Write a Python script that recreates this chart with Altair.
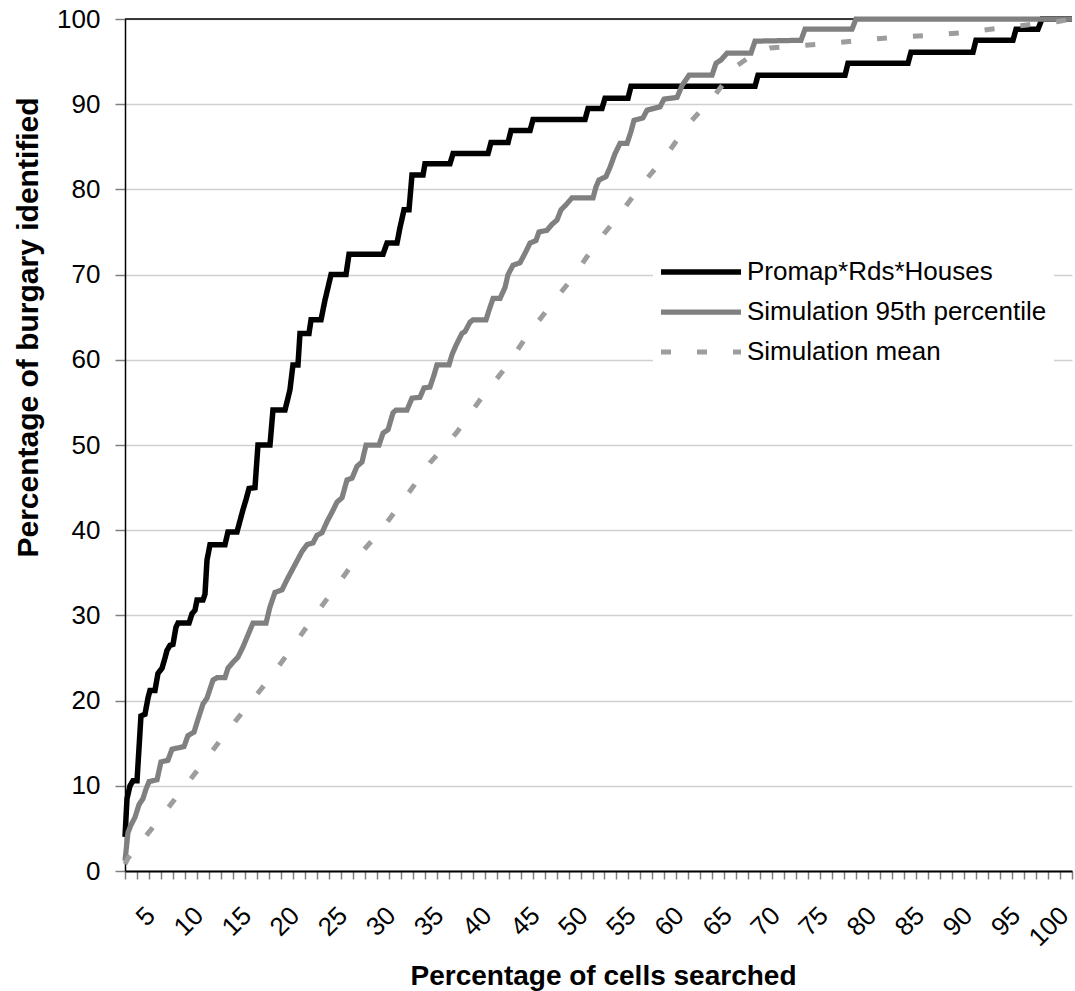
import altair as alt
import pandas as pd

FONT = "Liberation Sans"

SERIES = ["Promap*Rds*Houses", "Simulation 95th percentile", "Simulation mean"]
COLORS = ["#000000", "#808080", "#9d9d9d"]
DASHES = [[1, 0], [1, 0], [10, 26]]
WIDTHS = [5.5, 5, 5]

X_MIN = 1.5
X_MAX = 100
X_LABELS = list(range(5, 101, 5))
MINOR_TICKS = [X_MIN + k * (X_MAX - X_MIN) / 79 for k in range(80)]
Y_TICKS = list(range(0, 101, 10))

# Promap*Rds*Houses
promap_x = [1.50, 1.71, 2.02, 2.33, 2.75, 2.96, 3.16, 3.58, 3.89, 4.10, 4.62, 4.93,
            5.35, 5.66, 5.87, 6.18, 6.49, 6.80, 7.01, 8.16, 8.47, 8.78, 8.99, 9.61,
            9.82, 10.03, 10.34, 11.90, 12.21, 13.15, 13.77, 14.09, 14.40, 15.02, 15.33,
            16.58, 16.89, 18.14, 18.45, 18.66, 18.97, 19.49, 19.70, 20.64, 20.85, 21.89,
            22.30, 22.93, 24.49, 24.80, 28.34, 28.75, 29.79, 30.10, 30.52, 31.04, 31.35,
            32.50, 32.70, 35.30, 35.62, 39.26, 39.57, 41.34, 41.65, 43.63, 43.94, 49.35,
            49.66, 51.11, 51.43, 53.82, 54.13, 67.03, 67.34, 76.39, 76.70, 82.94, 83.25,
            89.70, 90.01, 93.86, 94.18, 96.46, 96.88, 100.0]
promap_y = [4.0, 8.5, 10.0, 10.6, 10.6, 14.5, 18.2, 18.4, 20.3, 21.2, 21.2, 23.2,
            23.8, 25.0, 25.9, 26.5, 26.6, 28.6, 29.1, 29.1, 30.2, 30.6, 31.8, 31.8,
            32.5, 36.5, 38.3, 38.3, 39.8, 39.8, 42.4, 43.6, 44.9, 45.0, 50.0,
            50.0, 54.1, 54.1, 55.5, 56.5, 59.4, 59.4, 63.1, 63.1, 64.7, 64.7,
            67.0, 70.0, 70.0, 72.4, 72.4, 73.7, 73.7, 75.5, 77.6, 77.6, 81.7,
            81.7, 83.0, 83.0, 84.2, 84.2, 85.5, 85.5, 86.9, 86.9, 88.2, 88.2,
            89.5, 89.5, 90.7, 90.7, 92.1, 92.1, 93.4, 93.4, 94.8, 94.8, 96.1,
            96.1, 97.5, 97.5, 98.8, 98.8, 100.0, 100.0]

# Simulation 95th percentile
p95_x = [1.50, 1.81, 2.12, 2.54, 2.96, 3.37, 3.68, 4.00, 4.83, 5.24, 5.97, 6.39,
         7.64, 8.05, 8.68, 9.09, 9.61, 10.03, 10.65, 11.07, 11.90, 12.21, 12.73, 13.25,
         13.77, 14.29, 14.81, 16.17, 16.58, 17.10, 17.83, 18.35, 18.87, 19.39, 19.91,
         20.43, 21.05, 21.47, 21.99, 22.51, 23.03, 23.55, 24.07, 24.59, 25.11, 25.63,
         26.15, 26.57, 27.92, 28.34, 28.86, 29.38, 29.69, 30.83, 31.35, 32.18, 32.60,
         33.22, 33.64, 33.95, 35.20, 35.51, 35.93, 36.55, 36.86, 37.38, 37.70, 39.05,
         39.36, 39.78, 40.51, 41.03, 41.34, 41.86, 42.59, 43.11, 43.63, 44.25, 44.56,
         45.39, 45.91, 46.43, 46.85, 47.37, 47.99, 50.18, 50.49, 50.80, 51.53, 51.95,
         52.47, 52.99, 53.72, 54.13, 54.44, 55.38, 55.80, 57.15, 57.57, 58.92, 59.44,
         60.17, 62.56, 62.97, 63.49, 64.12, 66.61, 67.03, 71.81, 72.23, 77.12, 77.53,
         100.0]
p95_y = [1.2, 4.5, 5.4, 6.3, 7.8, 8.5, 9.6, 10.5, 10.7, 12.8, 13.0, 14.3,
         14.6, 15.9, 16.3, 17.8, 19.6, 20.3, 22.4, 22.7, 22.7, 23.8, 24.5, 25.1,
         26.3, 27.7, 29.1, 29.1, 31.0, 32.7, 33.0, 34.2, 35.3, 36.4, 37.5,
         38.3, 38.5, 39.4, 39.7, 41.0, 42.1, 43.3, 43.8, 45.9, 46.1, 47.5,
         48.0, 50.0, 50.0, 51.4, 51.8, 53.8, 54.1, 54.1, 55.5, 55.6, 56.7,
         56.8, 58.2, 59.4, 59.4, 60.6, 61.7, 63.1, 63.3, 64.4, 64.7, 64.7,
         65.8, 67.2, 67.2, 68.5, 70.0, 71.1, 71.4, 72.5, 73.7, 74.0, 75.0,
         75.2, 75.9, 76.4, 77.6, 78.2, 79.0, 79.0, 80.3, 81.1, 81.5, 82.6,
         84.2, 85.4, 85.4, 86.8, 88.1, 88.4, 89.3, 89.7, 90.6, 90.8, 92.2,
         93.4, 93.4, 94.8, 95.2, 96.0, 96.0, 97.4, 97.5, 98.8, 98.8, 100.0,
         100.0]

# Simulation mean
mean_x = [1.50, 1.81, 4.31, 6.80, 9.30, 11.59, 13.98, 16.27, 18.56, 21.05, 23.34,
          25.74, 28.34, 30.83, 33.22, 36.03, 38.43, 41.03, 43.31, 45.71, 48.10, 50.39,
          52.78, 55.07, 57.67, 60.06, 62.87, 65.26, 67.03, 68.59, 71.92, 75.35, 78.78,
          82.11, 85.44, 88.66, 92.20, 95.32, 98.55, 100.0]
mean_y = [0.8, 1.5, 5.0, 8.6, 12.2, 15.6, 19.0, 22.2, 25.7, 29.7, 33.2,
          36.9, 40.3, 44.1, 47.9, 51.5, 55.3, 59.0, 62.8, 66.3, 69.7, 73.5,
          76.8, 80.3, 83.8, 87.6, 91.1, 94.6, 96.0, 96.6, 96.9, 97.2, 97.6,
          97.9, 98.1, 98.4, 98.9, 99.3, 99.7, 100.0]

rows = []
for name, xs, ys in zip(SERIES, [promap_x, p95_x, mean_x], [promap_y, p95_y, mean_y]):
    for i, (xv, yv) in enumerate(zip(xs, ys)):
        rows.append({"series": name, "x": xv, "y": yv, "i": i})
df = pd.DataFrame(rows)

border_df = pd.DataFrame({"x": [X_MIN], "x1": [X_MAX], "y": [100]})

x_scale = alt.Scale(domain=[X_MIN, X_MAX], nice=False, zero=False)
y_scale = alt.Scale(domain=[0, 100], nice=False)

y_axis = alt.Axis(
    values=Y_TICKS, format="d", grid=True, gridColor="#d0d0d0", gridWidth=1.5,
    domain=True, domainColor="#000000", domainWidth=1.5,
    ticks=True, tickSize=10, tickColor="#808080", tickWidth=1.5,
    labelFontSize=26, labelFont=FONT, labelColor="#000000", labelPadding=15,
    title="Percentage of burgary identified", titleFont=FONT, titleFontSize=30,
    titleFontWeight="bold", titleColor="#000000", titleAngle=-90,
    titleX=-97, titleY=308, titleAlign="center", titleBaseline="middle")

# black frame line along the top of the plot, carrying the minor tick axis
border = alt.Chart(border_df).mark_rule(color="#000000", strokeWidth=1.5).encode(
    x=alt.X("x:Q", scale=x_scale, axis=alt.Axis(
        orient="bottom", values=MINOR_TICKS, labels=False, domain=False, grid=False,
        ticks=True, tickSize=8, tickColor="#808080", tickWidth=1.5, title=None)),
    x2="x1:Q",
    y=alt.Y("y:Q", scale=y_scale, axis=y_axis),
)

lines = alt.Chart(df).mark_line(strokeCap="butt", strokeJoin="miter").encode(
    x=alt.X("x:Q", scale=x_scale, axis=alt.Axis(
        orient="bottom", values=X_LABELS, format="d", ticks=False, tickSize=0,
        grid=False, domain=True, domainColor="#000000", domainWidth=2,
        labelAngle=-45, labelAlign="right", labelBaseline="middle",
        labelPadding=40, labelOffset=-8, labelFontSize=26, labelFont=FONT,
        labelColor="#000000", labelOverlap=False, labelFlush=False, labelBound=False,
        title="Percentage of cells searched", titleFont=FONT, titleFontSize=28,
        titleFontWeight="bold", titleColor="#000000", titleX=478, titleY=113,
        titleAlign="center", titleBaseline="alphabetic", titleAngle=0)),
    y=alt.Y("y:Q", scale=y_scale, axis=y_axis),
    color=alt.Color("series:N", scale=alt.Scale(domain=SERIES, range=COLORS),
                    legend=alt.Legend(title=None)),
    strokeDash=alt.StrokeDash("series:N", scale=alt.Scale(domain=SERIES, range=DASHES),
                              legend=alt.Legend(title=None)),
    strokeWidth=alt.StrokeWidth("series:N", scale=alt.Scale(domain=SERIES, range=WIDTHS),
                                legend=None),
    order="i:Q",
)

chart = alt.layer(border, lines).resolve_axis(x="independent").properties(
    width=947,
    height=852,
    padding={"left": 125, "top": 19, "right": 3, "bottom": 120},
    autosize=alt.AutoSizeParams(type="none"),
    background="#ffffff",
).configure_view(stroke=None).configure_legend(
    orient="none",
    legendX=528,
    legendY=233,
    fillColor="#ffffff",
    padding=7,
    labelFont=FONT,
    labelFontSize=26,
    labelColor="#000000",
    symbolType="M-4,0L4,0",
    symbolSize=400,
    symbolStrokeWidth=5,
    symbolOffset=28,
    labelOffset=33,
    rowPadding=14,
    labelLimit=500,
)

chart.save("out.html", embed_options={"renderer": "svg", "actions": False})
